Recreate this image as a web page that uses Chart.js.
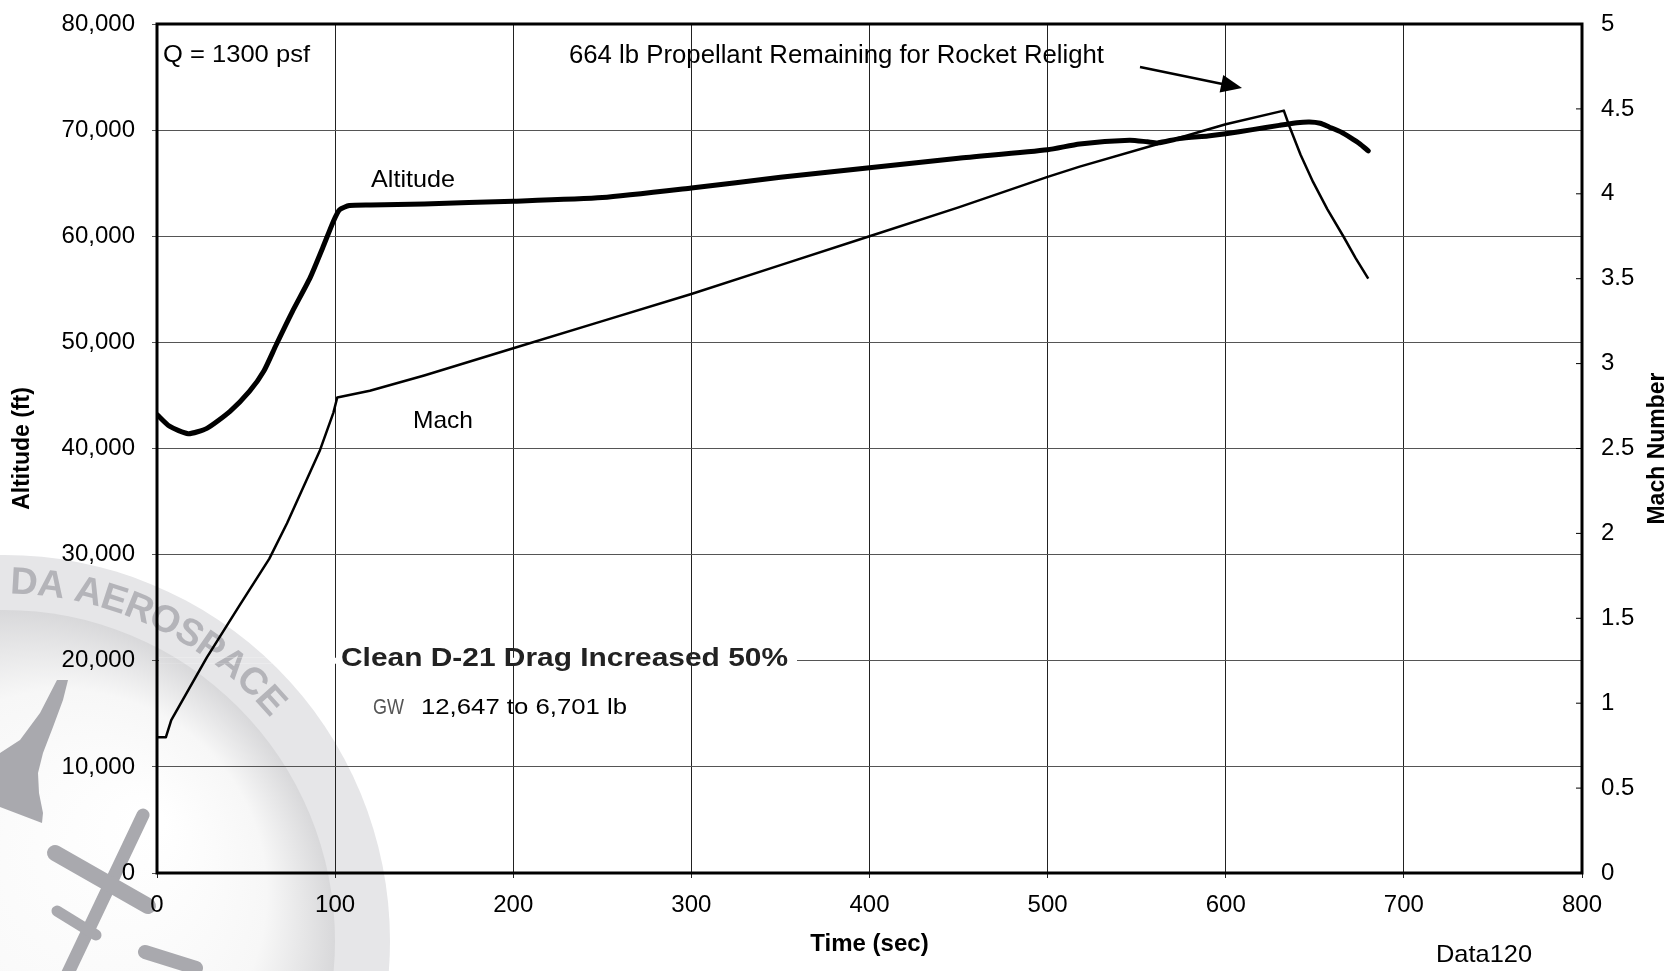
<!DOCTYPE html>
<html>
<head>
<meta charset="utf-8">
<title>Clean D-21 Drag Increased 50%</title>
<script src="https://cdn.jsdelivr.net/npm/chart.js"></script>
<style>
  html, body { margin: 0; padding: 0; background: #fff; }
  canvas { display: block; }
</style>
</head>
<body>
<canvas id="flightChart" width="1677" height="971"></canvas>
<script>
// values
const altTime = [0, 7, 17.5, 28, 41, 52, 60, 67, 76, 86, 93, 99, 102.5, 108, 120, 150, 200, 250, 300, 350, 400, 450, 500, 518, 546, 556, 562, 574, 590, 600, 615, 630, 640, 647, 653, 658, 665, 670, 675, 680];
const altFeet = [43200, 42100, 41400, 41900, 43500, 45400, 47300, 49800, 52900, 56100, 58900, 61400, 62500, 62900, 62950, 63050, 63300, 63650, 64550, 65550, 66450, 67350, 68150, 68700, 69050, 68900, 68800, 69200, 69450, 69650, 70050, 70450, 70700, 70770, 70650, 70300, 69800, 69300, 68750, 68050];

const machTime = [0, 5, 8, 28, 46, 63, 73, 91.5, 99, 101.2, 119.5, 150, 200, 250, 300, 350, 400, 450, 500, 518, 561, 600, 632.6, 636, 642, 649, 657, 666, 673, 680];
const machValues = [0.8, 0.8, 0.9, 1.27, 1.57, 1.85, 2.06, 2.49, 2.71, 2.80, 2.84, 2.93, 3.09, 3.25, 3.41, 3.58, 3.75, 3.92, 4.10, 4.16, 4.29, 4.41, 4.49, 4.39, 4.23, 4.07, 3.91, 3.75, 3.62, 3.50];

const timeTicks = { min: 0, max: 800, step: 100 };
const altTicks = { min: 0, max: 80000, step: 10000 };
const machTicks = { min: 0, max: 5, step: 0.5 };

const FONT = '"Liberation Sans", Arial, Helvetica, sans-serif';
Chart.defaults.font.family = FONT;
Chart.defaults.color = "#000";

// draw text squeezed/stretched to a given width (the scan is a bit wide)
function fitText(ctx, text, x, y, width, font, color) {
  ctx.save();
  ctx.font = font;
  ctx.fillStyle = color || "#000";
  ctx.textAlign = "left";
  ctx.textBaseline = "middle";
  const w = ctx.measureText(text).width;
  ctx.translate(x, y);
  ctx.scale(width / w, 1);
  ctx.fillText(text, 0, 0);
  ctx.restore();
}

function arcText(ctx, text, cx, cy, r, start) {
  let a = start;
  for (const ch of text) {
    const w = ctx.measureText(ch).width;
    a += w / 2 / r;
    ctx.save();
    ctx.translate(cx + r * Math.cos(a), cy + r * Math.sin(a));
    ctx.rotate(a + Math.PI / 2);
    ctx.fillText(ch, 0, 0);
    ctx.restore();
    a += w / 2 / r;
  }
}

// faint logo in the lower left corner of the scan
function drawLogo(ctx, w, h) {
  const cx = 4, cy = 941;
  ctx.save();
  ctx.fillStyle = "#fff";
  ctx.fillRect(0, 0, w, h);

  ctx.beginPath();
  ctx.arc(cx, cy, 386, 0, Math.PI * 2);
  ctx.fillStyle = "#e6e6e8";
  ctx.fill();

  const g = ctx.createRadialGradient(cx + 150, cy - 120, 10, cx, cy, 331);
  g.addColorStop(0, "#ffffff");
  g.addColorStop(0.6, "#f7f7f7");
  g.addColorStop(1, "#d8d8da");
  ctx.beginPath();
  ctx.arc(cx, cy, 331, 0, Math.PI * 2);
  ctx.fillStyle = g;
  ctx.fill();

  ctx.font = "bold 38px " + FONT;
  ctx.fillStyle = "#b4b4b9";
  ctx.textAlign = "center";
  ctx.textBaseline = "middle";
  arcText(ctx, "DA AEROSPACE", cx, cy, 358, (-89 * Math.PI) / 180);

  // aircraft silhouettes
  ctx.fillStyle = "#a9a9ae";
  ctx.strokeStyle = "#a9a9ae";
  ctx.beginPath();
  [[68, 680], [63, 700], [53, 727], [43, 753], [38, 773], [39, 793], [43, 813], [42, 823],
   [0, 807], [0, 753], [20, 740], [40, 713], [57, 680]].forEach(([x, y], i) =>
    i ? ctx.lineTo(x, y) : ctx.moveTo(x, y));
  ctx.closePath();
  ctx.fill();

  ctx.lineCap = "round";
  ctx.lineWidth = 13;
  ctx.beginPath(); ctx.moveTo(143, 815); ctx.lineTo(67, 975); ctx.stroke();
  ctx.lineWidth = 16;
  ctx.beginPath(); ctx.moveTo(55, 853); ctx.lineTo(148, 906); ctx.stroke();
  ctx.lineWidth = 11;
  ctx.beginPath(); ctx.moveTo(57, 911); ctx.lineTo(96, 935); ctx.stroke();
  ctx.lineWidth = 14;
  ctx.beginPath(); ctx.moveTo(145, 952); ctx.lineTo(196, 968); ctx.stroke();
  ctx.restore();
}

const watermark = {
  id: "watermark",
  beforeDraw(chart) {
    drawLogo(chart.ctx, chart.width, chart.height);
  },
  beforeDatasetsDraw(chart) {
    // the label box hides the left part of the 20,000 grid line
    const ctx = chart.ctx;
    const y = chart.scales.y.getPixelForValue(20000);
    ctx.save();
    ctx.beginPath();
    ctx.rect(chart.chartArea.left + 2, y - 3, 795 - chart.chartArea.left, 6);
    ctx.clip();
    drawLogo(ctx, chart.width, chart.height);
    ctx.restore();
  }
};

const frame = {
  id: "frame",
  afterDatasetsDraw(chart) {
    const { ctx, chartArea: a } = chart;
    ctx.save();
    ctx.strokeStyle = "#000";
    ctx.lineWidth = 3;
    ctx.strokeRect(a.left, a.top, a.right - a.left, a.bottom - a.top);
    // small inward ticks on the Mach axis
    ctx.lineWidth = 1;
    chart.scales.y2.ticks.forEach((t) => {
      const y = chart.scales.y2.getPixelForValue(t.value);
      ctx.beginPath();
      ctx.moveTo(a.right - 6, y);
      ctx.lineTo(a.right, y);
      ctx.stroke();
    });
    ctx.restore();
  }
};

const notes = {
  id: "notes",
  afterDraw(chart) {
    const ctx = chart.ctx;
    fitText(ctx, "Q = 1300 psf", 163, 55, 147, "24px " + FONT);
    fitText(ctx, "664 lb Propellant Remaining for Rocket Relight", 569, 56, 535, "26px " + FONT);
    fitText(ctx, "Altitude", 371, 180, 84, "24px " + FONT);
    fitText(ctx, "Mach", 413, 421, 60, "24px " + FONT);
    fitText(ctx, "Clean D-21 Drag Increased 50%", 341, 659, 447, "bold 26px " + FONT, "#222");
    fitText(ctx, "GW", 373, 708, 31, "22px " + FONT, "#555");
    fitText(ctx, "12,647 to 6,701 lb", 421, 708, 206, "22px " + FONT);
    fitText(ctx, "Data120", 1436, 955, 96, "24px " + FONT);

    // right axis title reads bottom to top
    ctx.save();
    ctx.translate(1658, (chart.chartArea.top + chart.chartArea.bottom) / 2);
    ctx.rotate(-Math.PI / 2);
    ctx.font = "bold 23px " + FONT;
    ctx.fillStyle = "#000";
    ctx.textAlign = "center";
    ctx.textBaseline = "middle";
    ctx.fillText("Mach Number", 0, 0);
    ctx.restore();

    // arrow to the relight point
    const x1 = 1140, y1 = 67, x2 = 1242, y2 = 88;
    const ang = Math.atan2(y2 - y1, x2 - x1);
    ctx.save();
    ctx.strokeStyle = "#000";
    ctx.fillStyle = "#000";
    ctx.lineWidth = 2.5;
    ctx.beginPath();
    ctx.moveTo(x1, y1);
    ctx.lineTo(x2 - 15 * Math.cos(ang), y2 - 15 * Math.sin(ang));
    ctx.stroke();
    ctx.translate(x2, y2);
    ctx.rotate(ang);
    ctx.beginPath();
    ctx.moveTo(0, 0);
    ctx.lineTo(-21, -9);
    ctx.lineTo(-21, 9);
    ctx.closePath();
    ctx.fill();
    ctx.restore();
  }
};

// fixed axis sizes so the plot box lands where it is in the scan
function sideAxis(width) {
  return (scale) => {
    scale.width = width;
    scale.paddingTop = 0;
    scale.paddingBottom = 0;
  };
}

const ctx = document.getElementById("flightChart").getContext("2d");

new Chart(ctx, {
  type: "line",
  data: {
    datasets: [
      {
        label: "Altitude",
        data: altTime.map((t, i) => ({ x: t, y: altFeet[i] })),
        yAxisID: "y",
        borderColor: "#000",
        borderWidth: 5,
        borderCapStyle: "round",
        borderJoinStyle: "round",
        pointRadius: 0,
        tension: 0.2,
      },
      {
        label: "Mach",
        data: machTime.map((t, i) => ({ x: t, y: machValues[i] })),
        yAxisID: "y2",
        borderColor: "#000",
        borderWidth: 2.5,
        borderJoinStyle: "round",
        pointRadius: 0,
        tension: 0,
      },
    ],
  },
  options: {
    responsive: false,
    animation: false,
    devicePixelRatio: 1,
    layout: { autoPadding: false, padding: { top: 24, left: 0, right: 0, bottom: 0 } },
    plugins: {
      legend: { display: false },
      tooltip: { enabled: false },
    },
    scales: {
      x: {
        type: "linear",
        min: timeTicks.min,
        max: timeTicks.max,
        ticks: { stepSize: timeTicks.step, padding: 13, font: { size: 24 } },
        grid: { color: "#222", lineWidth: 1, tickLength: 5 },
        border: { display: false },
        title: {
          display: true,
          text: "Time (sec)",
          font: { size: 24, weight: "bold" },
          padding: { top: 0, bottom: 12 },
        },
        afterFit(scale) {
          scale.height = 98;
          scale.paddingLeft = 0;
          scale.paddingRight = 0;
        },
      },
      y: {
        type: "linear",
        position: "left",
        min: altTicks.min,
        max: altTicks.max,
        ticks: { stepSize: altTicks.step, padding: 17, font: { size: 24 } },
        grid: { color: "#555", lineWidth: 1, tickLength: 5 },
        border: { display: false },
        title: {
          display: true,
          text: "Altitude (ft)",
          font: { size: 23, weight: "bold" },
          padding: { top: 9, bottom: 0 },
        },
        afterFit: sideAxis(157),
      },
      y2: {
        type: "linear",
        position: "right",
        min: machTicks.min,
        max: machTicks.max,
        ticks: {
          stepSize: machTicks.step,
          padding: 19,
          font: { size: 24 },
          callback: (v) => String(v),
        },
        grid: { drawOnChartArea: false, drawTicks: false },
        border: { display: false },
        afterFit: sideAxis(95),
      },
    },
  },
  plugins: [watermark, frame, notes],
});
</script>
</body>
</html>
